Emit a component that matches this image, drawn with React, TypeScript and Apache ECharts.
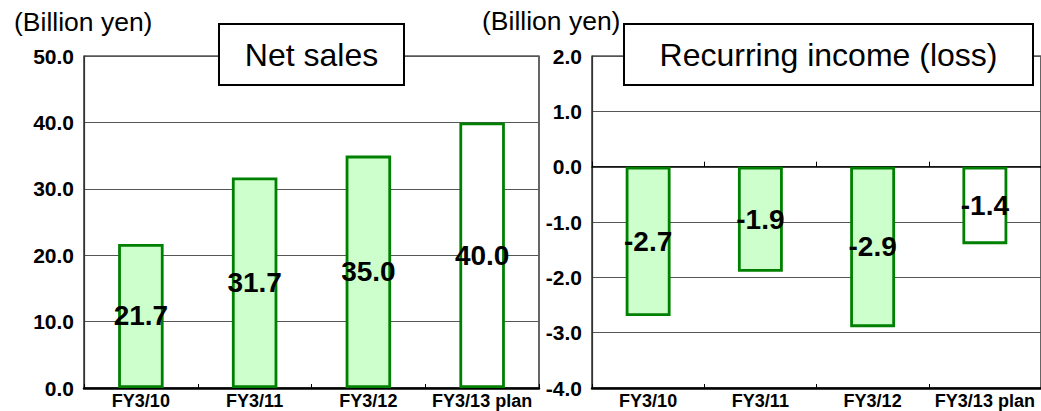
import React, { useEffect, useRef } from "react";
import * as echarts from "echarts";

const categories = ["FY3/10", "FY3/11", "FY3/12", "FY3/13 plan"];
const netSales = [21.7, 31.7, 35.0, 40.0];
const recurringIncome = [-2.7, -1.9, -2.9, -1.4];
const planIndex = 3;

const FONT = "'Liberation Sans', Arial, Helvetica, sans-serif";
const FILL = "#CCFFCC";
const EDGE = "#008000";

function barData(values: number[]) {
  return values.map((v, i) => ({
    value: v,
    itemStyle: { color: i === planIndex ? "#FFFFFF" : FILL },
  }));
}

export default function App() {
  const ref = useRef<HTMLDivElement>(null);
  useEffect(() => {
    if (!ref.current) return;
    const chart = echarts.init(ref.current, null, { renderer: "svg" });
    const yLabel = { fontFamily: FONT, fontSize: 21, fontWeight: "bold", color: "#000", margin: 10, formatter: (v: number) => v.toFixed(1) };
    const xLabel = { fontFamily: FONT, fontSize: 18, fontWeight: "bold", color: "#000", margin: 4, interval: 0 };
    const splitLine = { show: true, lineStyle: { color: "#555", width: 1 } };
    const barLabel = {
      show: true,
      position: "inside",
      fontFamily: FONT,
      fontSize: 28,
      fontWeight: "bold",
      color: "#000",
      formatter: (p: any) => Number(p.value).toFixed(1),
    };
    const itemStyle = { borderColor: EDGE, borderWidth: 2.8 };
    chart.setOption({
      animation: false,
      backgroundColor: "#fff",
      grid: [
        { left: 84, right: 502, top: 56, bottom: 23, show: true, borderColor: "#000", borderWidth: 1.2, backgroundColor: "transparent" },
        { left: 592, right: -6, top: 56, bottom: 23, show: true, borderColor: "#000", borderWidth: 1.2, backgroundColor: "transparent" },
      ],
      xAxis: [
        {
          type: "category", gridIndex: 0, data: categories, position: "bottom",
          axisLine: { onZero: false, lineStyle: { color: "#000", width: 2.5 } },
          axisTick: { show: true, inside: true, length: 4, interval: 0, lineStyle: { color: "#000" } },
          axisLabel: xLabel,
        },
        {
          type: "category", gridIndex: 1, data: categories, position: "bottom",
          axisLine: { onZero: false, lineStyle: { color: "#000", width: 2.5 } },
          axisTick: { show: true, inside: true, length: 4, interval: 0, lineStyle: { color: "#000" } },
          axisLabel: xLabel,
        },
        {
          type: "category", gridIndex: 1, data: categories, position: "top",
          axisLine: { onZero: true, lineStyle: { color: "#000", width: 1.5 } },
          axisTick: { show: true, inside: false, length: 5, interval: 0, lineStyle: { color: "#000" } },
          axisLabel: { show: false },
        },
      ],
      yAxis: [
        {
          type: "value", gridIndex: 0, min: 0, max: 50, interval: 10,
          axisLine: { show: true, lineStyle: { color: "#333", width: 1.2 } },
          axisTick: { show: false },
          axisLabel: yLabel,
          splitLine,
        },
        {
          type: "value", gridIndex: 1, min: -4, max: 2, interval: 1,
          axisLine: { show: true, onZero: false, lineStyle: { color: "#333", width: 1.2 } },
          axisTick: { show: false },
          axisLabel: yLabel,
          splitLine,
        },
      ],
      series: [
        {
          type: "bar", xAxisIndex: 0, yAxisIndex: 0, data: barData(netSales),
          barWidth: "40%", itemStyle, label: barLabel, z: 3,
        },
        {
          type: "bar", xAxisIndex: 1, yAxisIndex: 1, data: barData(recurringIncome),
          barWidth: "40%", itemStyle, label: barLabel, z: 3,
        },
      ],
      graphic: [
        { type: "text", left: 14, top: 8, z: 10, style: { text: "(Billion yen)", fontFamily: FONT, fontSize: 26.5, fill: "#000" } },
        { type: "text", left: 482, top: 7, z: 10, style: { text: "(Billion yen)", fontFamily: FONT, fontSize: 26.5, fill: "#000" } },
        { type: "rect", z: 10, shape: { x: 219, y: 24, width: 185, height: 61 }, style: { fill: "#fff", stroke: "#000", lineWidth: 2 } },
        { type: "text", z: 11, x: 311.5, y: 55, style: { text: "Net sales", fontFamily: FONT, fontSize: 32, fill: "#000", align: "center", verticalAlign: "middle" } },
        { type: "rect", z: 10, shape: { x: 624, y: 24, width: 409, height: 61 }, style: { fill: "#fff", stroke: "#000", lineWidth: 2 } },
        { type: "text", z: 11, x: 828.5, y: 55, style: { text: "Recurring income (loss)", fontFamily: FONT, fontSize: 32, fill: "#000", align: "center", verticalAlign: "middle" } },
      ],
    });
    return () => chart.dispose();
  }, []);
  return (
    <div
      ref={ref}
      style={{ position: "fixed", left: 0, top: 0, width: 1041, height: 411, background: "#fff" }}
    />
  );
}
